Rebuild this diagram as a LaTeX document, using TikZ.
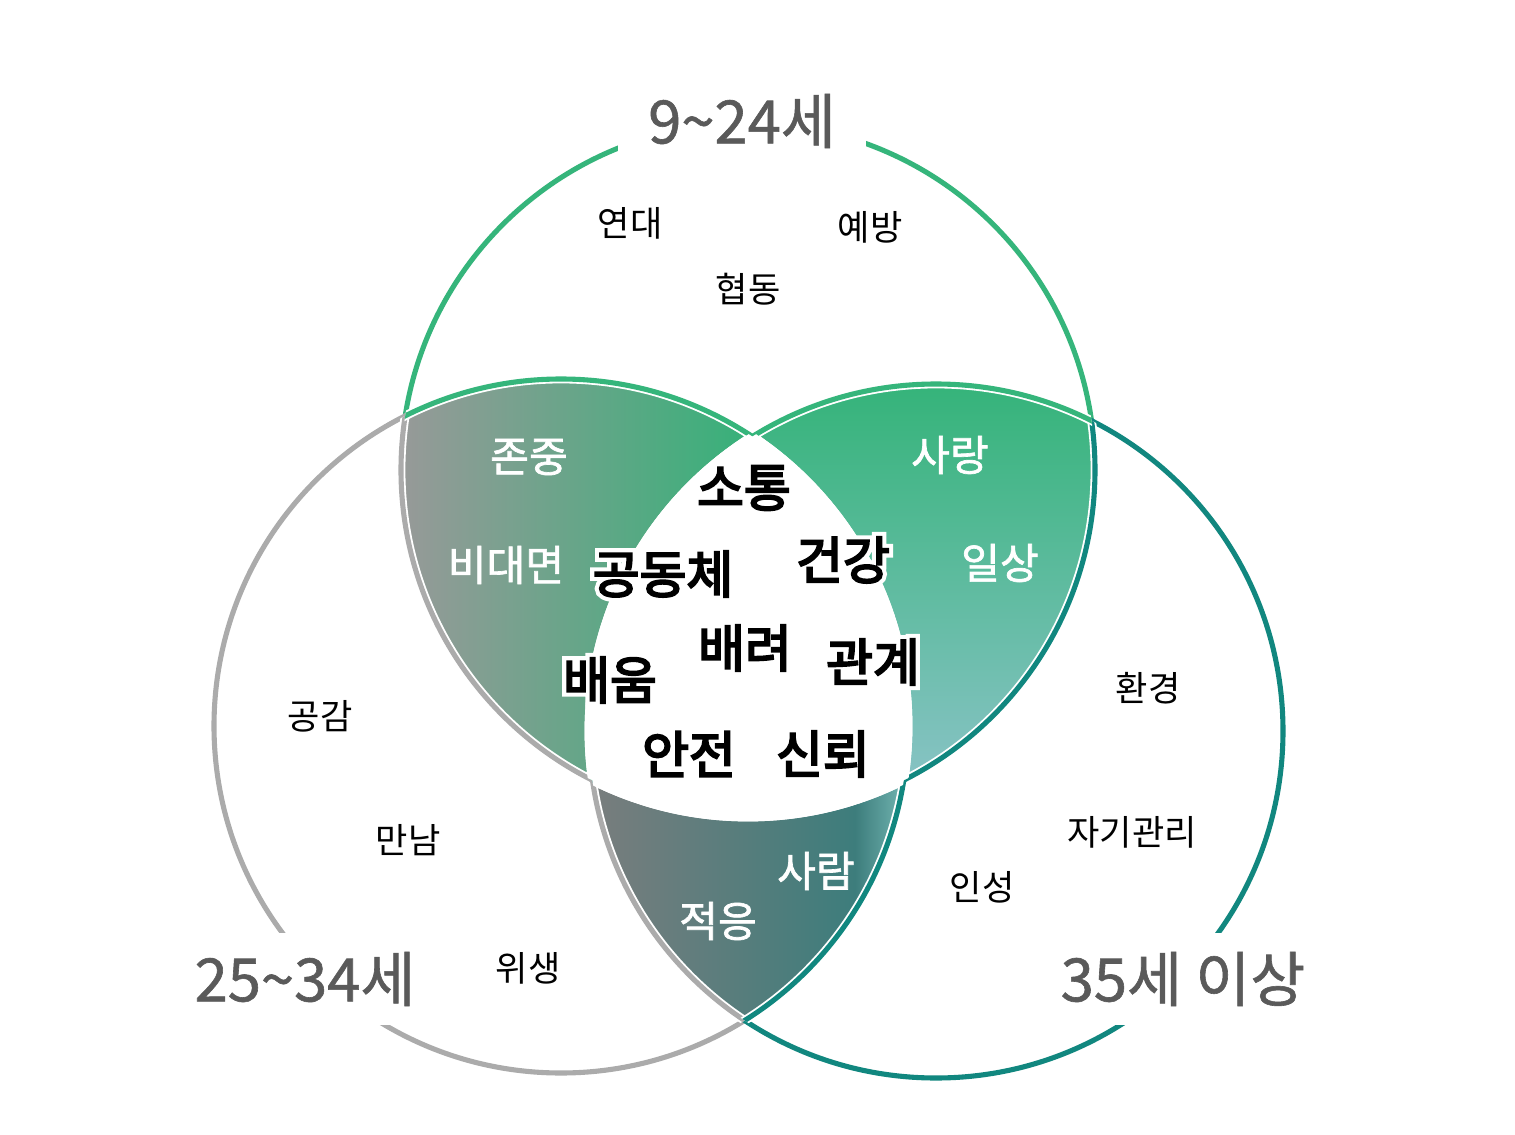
\documentclass[tikz,border=0pt]{standalone}
\usepackage{fontspec}
\setmainfont{Noto Sans CJK KR}
\newfontfamily\centrefont{Noto Sans CJK KR}[FakeBold=4]
\newfontfamily\halofont{Noto Sans CJK KR}[FakeBold=20]
\newfontfamily\midfont{Noto Sans CJK KR}[FakeBold=1.6]
\newfontfamily\titlefont{Noto Sans CJK KR}[FakeBold=1]
\definecolor{colT}{HTML}{35B57B}
\definecolor{colL}{HTML}{ABABAB}
\definecolor{colR}{HTML}{11877F}
\definecolor{ttlc}{HTML}{5A5A5A}
\definecolor{tlA}{HTML}{999999}
\definecolor{tlB}{HTML}{36B179}
\definecolor{trA}{HTML}{33B378}
\definecolor{trB}{HTML}{88C3C5}
\definecolor{bA}{HTML}{7B7D7D}
\definecolor{bB}{HTML}{3D7D7C}
\definecolor{bC}{HTML}{7CC0BC}
\pgfdeclarehorizontalshading{botsh}{100bp}{color(0bp)=(bA); color(25bp)=(bA); color(66bp)=(bB); color(75bp)=(bC); color(100bp)=(bC)}
\newcommand\hw[1]{\rlap{\halofont\textcolor{white}{#1}}{\centrefont #1}}
\tikzset{
  ring/.style={line width=2.9pt},
  gapline/.style={white, line width=5pt},
  tripleedge/.style={white, line width=4.5pt},
  smallword/.style={font=\fontsize{20}{24}\selectfont, text=black, inner sep=0pt},
  midword/.style={font=\midfont\fontsize{24}{28}\selectfont, text=white, inner sep=0pt},
  bigword/.style={font=\fontsize{29}{34}\selectfont, text=black, inner sep=0pt},
  titleword/.style={font=\titlefont\fontsize{34}{40}\selectfont, text=ttlc, fill=white, inner xsep=17pt, inner ysep=11pt},
}
\begin{document}
\begin{tikzpicture}[x=0.02cm,y=-0.02cm]
\useasboundingbox (0,0) rectangle (1515,1135);
\fill[white] (0,0) rectangle (1515,1135);
\coordinate (cT) at (748,470);
\coordinate (cL) at (561,726);
\coordinate (cR) at (936,731);
\def\rr{347}
% two-way regions
\begin{scope}
  \clip (cT) circle[radius=\rr];
  \clip (cL) circle[radius=\rr];
  \shade[left color=tlA, right color=tlB] (395,360) rectangle (752,800);
\end{scope}
\begin{scope}
  \clip (cT) circle[radius=\rr];
  \clip (cR) circle[radius=\rr];
  \shade[top color=trA, bottom color=trB] (745,375) rectangle (1102,785);
\end{scope}
\begin{scope}
  \clip (cL) circle[radius=\rr];
  \clip (cR) circle[radius=\rr];
  \shade[shading=botsh] (582,760) rectangle (915,1030);
\end{scope}
% triple region
\begin{scope}
  \clip (cT) circle[radius=\rr];
  \clip (cL) circle[radius=\rr];
  \fill[white] (cR) circle[radius=\rr];
\end{scope}
% outlines
\draw[ring, colT] (cT) circle[radius=\rr];
\draw[ring, colL] (cL) circle[radius=\rr];
\draw[ring, colR] (cR) circle[radius=\rr];
% inner arcs take the colour of the circle they lie in
\begin{scope}
  \clip (cL) circle[radius=\rr];
  \draw[gapline] (cT) circle[radius=\rr] (cR) circle[radius=\rr];
  \draw[ring, colL] (cT) circle[radius=\rr] (cR) circle[radius=\rr];
\end{scope}
\begin{scope}
  \clip (cR) circle[radius=\rr];
  \draw[gapline] (cT) circle[radius=\rr] (cL) circle[radius=\rr];
  \draw[ring, colR] (cT) circle[radius=\rr] (cL) circle[radius=\rr];
\end{scope}
\begin{scope}
  \clip (cT) circle[radius=\rr];
  \draw[gapline] (cL) circle[radius=\rr] (cR) circle[radius=\rr];
  \draw[ring, colT] (cL) circle[radius=\rr] (cR) circle[radius=\rr];
\end{scope}
% white edge of the triple region
\begin{scope}
  \clip (cL) circle[radius=\rr];
  \clip (cR) circle[radius=\rr];
  \draw[tripleedge] (cT) circle[radius=\rr];
\end{scope}
\begin{scope}
  \clip (cT) circle[radius=\rr];
  \clip (cR) circle[radius=\rr];
  \draw[tripleedge] (cL) circle[radius=\rr];
\end{scope}
\begin{scope}
  \clip (cT) circle[radius=\rr];
  \clip (cL) circle[radius=\rr];
  \draw[tripleedge] (cR) circle[radius=\rr];
\end{scope}
% single-circle words
\node[smallword] (w1) at (630,223) {연대};
\node[smallword] (w2) at (870,227) {예방};
\node[smallword] (w3) at (748,289) {협동};
\node[smallword] (w4) at (320,716) {공감};
\node[smallword] (w5) at (408,840) {만남};
\node[smallword] (w6) at (528,968) {위생};
\node[smallword] (w7) at (1148,688) {환경};
\node[smallword] (w8) at (1132,832) {자기관리};
\node[smallword] (w9) at (982,887) {인성};
% two-way words
\node[midword] (m1) at (529,457) {존중};
\node[midword] (m2) at (506,565) {비대면};
\node[midword] (m3) at (950,455) {사랑};
\node[midword] (m4) at (1000,563) {일상};
\node[midword] (m5) at (816,871) {사람};
\node[midword] (m6) at (718,921) {적응};
% centre words
\node[bigword] (b1) at (744,488) {\hw{소통}};
\node[bigword] (b2) at (663,574) {\hw{공동체}};
\node[bigword] (b3) at (843,560) {\hw{건강}};
\node[bigword] (b4) at (745,648) {\hw{배려}};
\node[bigword] (b5) at (873,662) {\hw{관계}};
\node[bigword] (b6) at (610,680) {\hw{배움}};
\node[bigword] (b7) at (689,754) {\hw{안전}};
\node[bigword] (b8) at (823,754) {\hw{신뢰}};
% titles
\node[titleword] (t1) at (742,121) {9\textasciitilde 24세};
\node[titleword] (t2) at (305,979) {25\textasciitilde 34세};
\node[titleword] (t3) at (1183,979) {35세 이상};
\end{tikzpicture}
\end{document}
